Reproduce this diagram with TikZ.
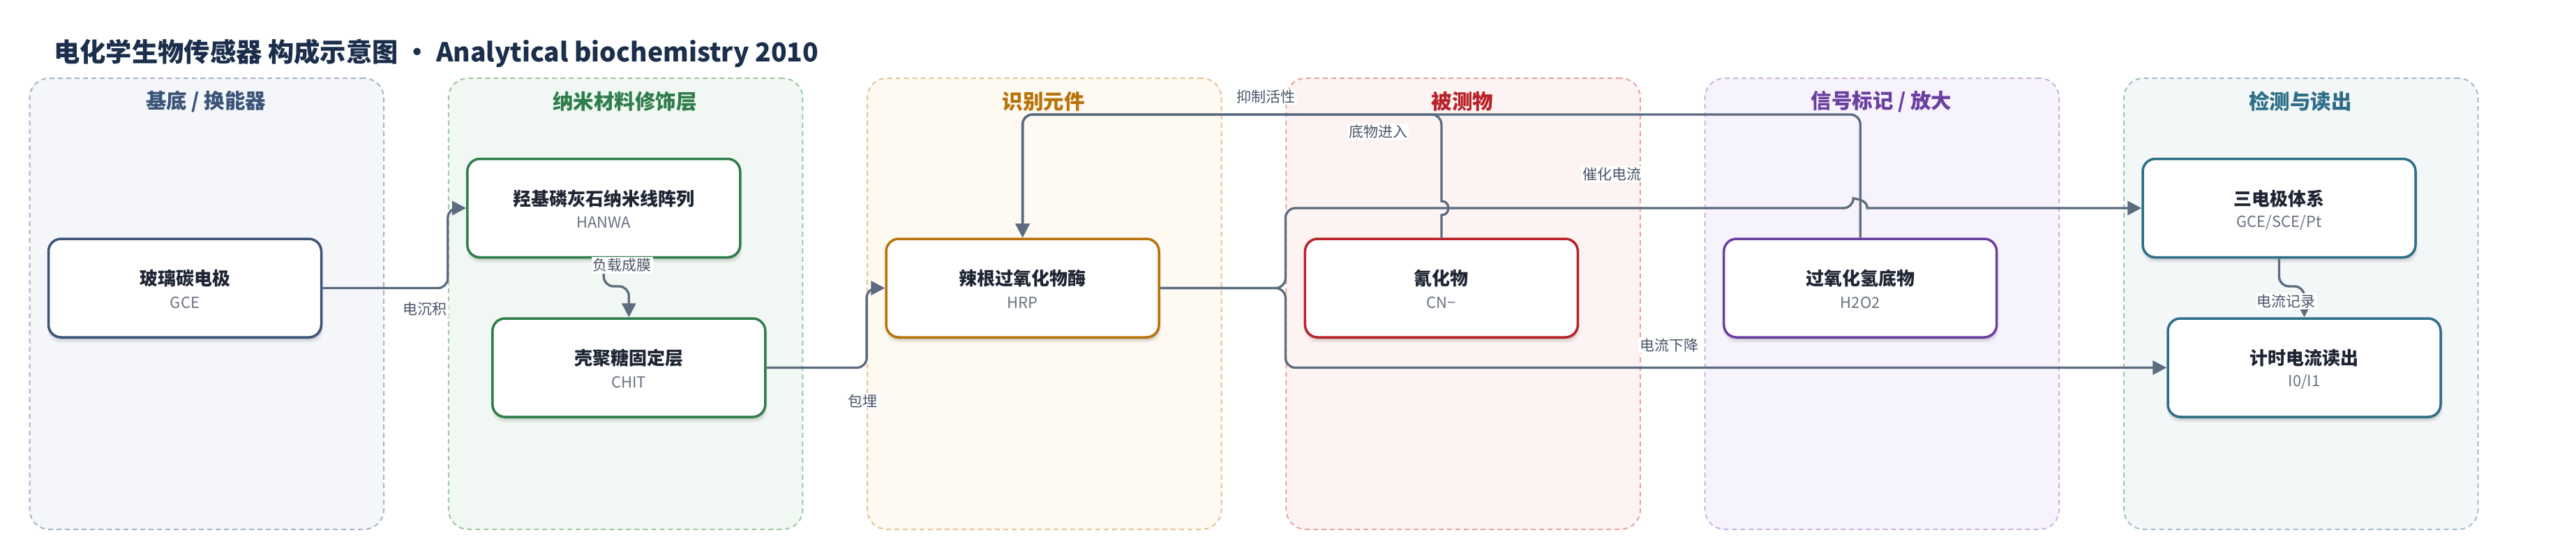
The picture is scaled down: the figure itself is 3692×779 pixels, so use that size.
\documentclass[tikz,border=0pt]{standalone}
\usepackage{fontspec}
\setmainfont{Noto Sans CJK SC}
\usetikzlibrary{arrows.meta,shadows}
\definecolor{titlec}{HTML}{1B2E4B}
\definecolor{edgec}{HTML}{5B6B80}
\definecolor{labc}{HTML}{4A5568}
\definecolor{nodet}{HTML}{1E2533}
\definecolor{subc}{HTML}{6B7280}
\definecolor{fA}{HTML}{F4F6FA}\definecolor{bA}{HTML}{A8B4C8}\definecolor{tA}{HTML}{3B5478}
\definecolor{fB}{HTML}{F1F8F3}\definecolor{bB}{HTML}{9BC8A7}\definecolor{tB}{HTML}{2E7D4A}
\definecolor{fC}{HTML}{FEF9F1}\definecolor{bC}{HTML}{E6C491}\definecolor{tC}{HTML}{B8730A}
\definecolor{fD}{HTML}{FDF3F3}\definecolor{bD}{HTML}{E7A3A3}\definecolor{tD}{HTML}{B82228}
\definecolor{fE}{HTML}{F7F3FC}\definecolor{bE}{HTML}{C9B3E3}\definecolor{tE}{HTML}{6B3FA0}
\definecolor{fF}{HTML}{F3F7F8}\definecolor{bF}{HTML}{9DBFCB}\definecolor{tF}{HTML}{2E6E88}
\tikzset{
  lanebox/.style={rounded corners=28pt, line width=2pt, dash pattern=on 7pt off 5pt,
    minimum width=507.5pt, minimum height=646pt, anchor=north west, inner sep=0pt},
  lanetitle/.style={font=\fontsize{29.5}{34}\selectfont\bfseries, inner sep=0pt},
  box/.style={rounded corners=18pt, line width=3.5pt, fill=white, minimum width=391pt,
    minimum height=141pt, inner sep=0pt,
    drop shadow={shadow xshift=1pt, shadow yshift=-7pt, shadow scale=1.01, opacity=0.05, fill=black},
    drop shadow={shadow xshift=1pt, shadow yshift=-5pt, opacity=0.07, fill=black},
    drop shadow={shadow xshift=1pt, shadow yshift=-3pt, opacity=0.08, fill=black}},
  boxtitle/.style={font=\fontsize{26}{31}\selectfont\bfseries, text=nodet, inner sep=0pt},
  boxsub/.style={font=\fontsize{22}{26}\selectfont, text=subc, inner sep=0pt},
  edge/.style={draw=edgec, line width=3.3pt, rounded corners=14pt,
    -{Triangle[length=20pt,width=20pt]}},
  elabel/.style={font=\fontsize{21}{25}\selectfont, text=labc, fill=white, inner sep=2pt}
}
\begin{document}
\begin{tikzpicture}[x=1pt,y=-1pt]
\useasboundingbox (0,0) rectangle (3692,779);
\fill[white] (0,0) rectangle (3692,779);

\node[anchor=west, inner sep=0pt, text=titlec, font=\fontsize{37.3}{44}\selectfont\bfseries] (title) at (77,76)
  {电化学生物传感器 构成示意图 · Analytical biochemistry 2010};

% lanes
\node[lanebox, fill=fA, draw=bA] (lane1) at (41.5,111) {};
\node[lanebox, fill=fB, draw=bB] (lane2) at (641.8,111) {};
\node[lanebox, fill=fC, draw=bC] (lane3) at (1242.1,111) {};
\node[lanebox, fill=fD, draw=bD] (lane4) at (1842.4,111) {};
\node[lanebox, fill=fE, draw=bE] (lane5) at (2442.7,111) {};
\node[lanebox, fill=fF, draw=bF] (lane6) at (3043,111) {};
\node[lanetitle, text=tA] (lt1) at (295.3,145.5) {基底 / 换能器};
\node[lanetitle, text=tB] (lt2) at (895.6,145.5) {纳米材料修饰层};
\node[lanetitle, text=tC] (lt3) at (1495.9,145.5) {识别元件};
\node[lanetitle, text=tD] (lt4) at (2096.2,145.5) {被测物};
\node[lanetitle, text=tE] (lt5) at (2696.5,145.5) {信号标记 / 放大};
\node[lanetitle, text=tF] (lt6) at (3296.8,145.5) {检测与读出};

% boxes
\node[box, draw=tA] (gce) at (265,412.5) {};
\node[box, draw=tB] (hanwa) at (865.3,298) {};
\node[box, draw=tB] (chit) at (901.3,526.5) {};
\node[box, draw=tC] (hrp) at (1465.6,412.5) {};
\node[box, draw=tD] (cn) at (2065.9,412.5) {};
\node[box, draw=tE] (h2o2) at (2666.2,412.5) {};
\node[box, draw=tF] (sandian) at (3266.5,298) {};
\node[box, draw=tF] (jishi) at (3302.5,526.5) {};

% edges
\draw[edge] (gce.east) -- (641.8,412.5) -- (641.8,298) -- (hanwa.west);
\draw[edge] (hanwa.south) -- (865.3,410) -- (901.3,410) -- (chit.north);
\draw[edge] (chit.east) -- (1242.1,526.5) -- (1242.1,412.5) -- (hrp.west);
\draw[edge] (h2o2.north) -- (2666.2,164) -- (1465.6,164) -- (hrp.north);
\draw[edge, sharp corners] (cn.north) -- (2065.9,308)
  .. controls (2079.2,308) and (2079.2,288) .. (2065.9,288) -- (2065.9,200)
  [rounded corners=14pt] -- (2065.9,164) -- (1465.6,164) -- (hrp.north);
\draw[edge] (hrp.east) -- (1842.4,412.5) -- (1842.4,298) -- (2656.2,298)
  [sharp corners] .. controls (2656.2,284.7) and (2676.2,284.7) .. (2676.2,298)
  -- (sandian.west);
\draw[edge] (hrp.east) -- (1842.4,412.5) -- (1842.4,526.5) -- (jishi.west);
\draw[edge] (sandian.south) -- (3266.5,410) -- (3302.5,410) -- (jishi.north);

% box texts
\node[boxtitle] (gcet) at ([yshift=13.5pt]gce.center) {玻璃碳电极};
\node[boxsub] (gces) at ([yshift=-20.5pt]gce.center) {GCE};
\node[boxtitle] (hanwat) at ([yshift=13.5pt]hanwa.center) {羟基磷灰石纳米线阵列};
\node[boxsub] (hanwas) at ([yshift=-20.5pt]hanwa.center) {HANWA};
\node[boxtitle] (chitt) at ([yshift=13.5pt]chit.center) {壳聚糖固定层};
\node[boxsub] (chits) at ([yshift=-20.5pt]chit.center) {CHIT};
\node[boxtitle] (hrpt) at ([yshift=13.5pt]hrp.center) {辣根过氧化物酶};
\node[boxsub] (hrps) at ([yshift=-20.5pt]hrp.center) {HRP};
\node[boxtitle] (cnt) at ([yshift=13.5pt]cn.center) {氰化物};
\node[boxsub] (cns) at ([yshift=-20.5pt]cn.center) {CN−};
\node[boxtitle] (h2o2t) at ([yshift=13.5pt]h2o2.center) {过氧化氢底物};
\node[boxsub] (h2o2s) at ([yshift=-20.5pt]h2o2.center) {H2O2};
\node[boxtitle] (sandiant) at ([yshift=13.5pt]sandian.center) {三电极体系};
\node[boxsub] (sandians) at ([yshift=-20.5pt]sandian.center) {GCE/SCE/Pt};
\node[boxtitle] (jishit) at ([yshift=13.5pt]jishi.center) {计时电流读出};
\node[boxsub] (jishis) at ([yshift=-20.5pt]jishi.center) {I0/I1};

% edge labels
\node[elabel] (l1) at (609,442.7) {电沉积};
\node[elabel] (l2) at (891.7,380) {负载成膜};
\node[elabel] (l3) at (1236.7,574) {包埋};
\node[elabel] (l4) at (1814,138.5) {抑制活性};
\node[elabel] (l5) at (1975,188.3) {底物进入};
\node[elabel] (l6) at (2310,249.6) {催化电流};
\node[elabel] (l7) at (2392,494.6) {电流下降};
\node[elabel] (l8) at (3276.7,431.7) {电流记录};
\end{tikzpicture}
\end{document}
